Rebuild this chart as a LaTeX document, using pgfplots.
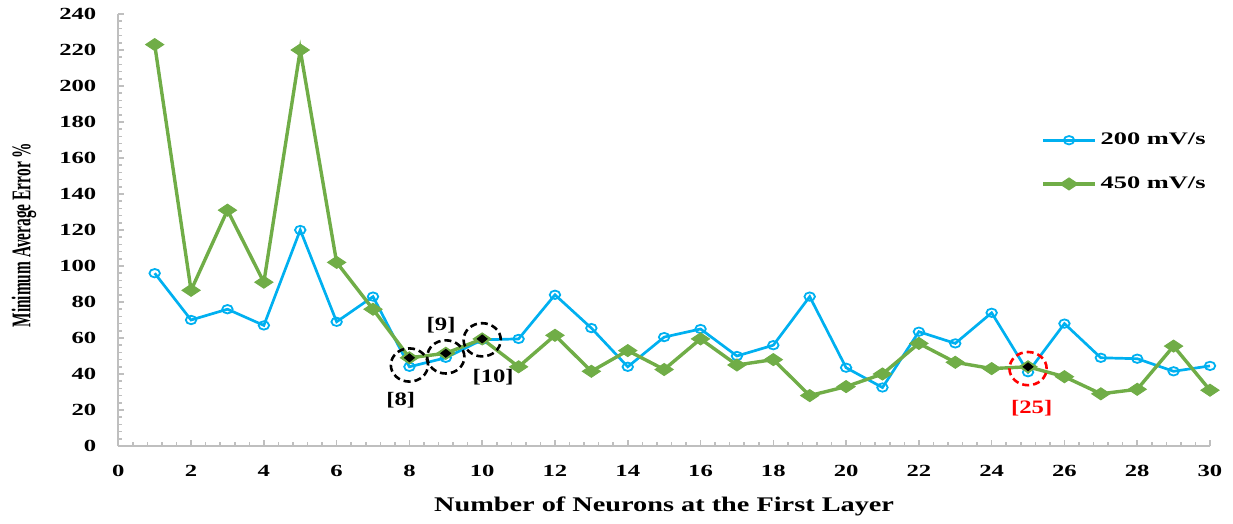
\documentclass[border=0pt]{standalone}
\usepackage{pgfplots}
\pgfplotsset{compat=1.18}
\usepackage{graphicx}
\usepackage{fontspec}
\setmainfont{Liberation Serif}

\definecolor{cblue}{HTML}{00B0F0}
\definecolor{cgreen}{HTML}{70AD47}
\definecolor{axgray}{HTML}{BFBFBF}

% wide lettering used throughout the figure
\newcommand\hs[2][1.45]{\scalebox{#1}[1]{#2}}

\begin{document}
\begin{tikzpicture}
\begin{axis}[
  at={(0,0)}, anchor=south west,
  scale only axis, width=545.85pt, height=216pt,
  xmin=0, xmax=30, ymin=0, ymax=240,
  axis x line*=bottom, axis y line*=left,
  axis line style={axgray, line width=1pt},
  xtick={0,2,...,30}, ytick={0,20,...,240},
  minor x tick num=4, minor y tick num=4,
  tick align=inside,
  major tick length=3pt, minor tick length=2pt,
  tick style={axgray, line width=0.8pt},
  tick label style={font=\bfseries\fontsize{8.5}{10}\selectfont},
  xticklabel={\hs{\pgfmathprintnumber[assume math mode=true]{\tick}}},
  yticklabel={\hs{\pgfmathprintnumber[assume math mode=true]{\tick}}},
  xticklabel style={yshift=-6pt},
  yticklabel style={xshift=-7.5pt},
  xlabel={\hs[1.36]{Number of Neurons at the First Layer}},
  xlabel style={font=\bfseries\fontsize{10.4}{12}\selectfont, anchor=center,
    at={(axis description cs:0.5,-0.141)}},
  ylabel={\scalebox{1}[1.75]{Minimum Average Error \%}},
  ylabel style={font=\bfseries\fontsize{7.7}{9}\selectfont, anchor=center,
    at={(axis description cs:-0.0863,0.488)}},
  legend style={draw=none, fill=none, at={(1.0,0.735)}, anchor=north east,
    font=\bfseries\fontsize{8.8}{10}\selectfont,
    row sep=10.5pt, inner sep=0pt, cells={anchor=west}},
  legend image code/.code={%
    \draw[mark repeat=2, mark phase=2, #1]
      plot coordinates {(0pt,0pt) (13pt,0pt) (26pt,0pt)};},
  clip=false,
]
% 200 mV/s
\addplot[cblue, line width=1.35pt, mark=o, mark size=2.1pt,
  mark options={fill=white, line width=0.9pt, xscale=1.25}]
coordinates {
 (1,96) (2,70) (3,76) (4,67) (5,120) (6,69) (7,83) (8,44) (9,49) (10,59)
 (11,59.5) (12,84) (13,65.5) (14,44) (15,60.5) (16,65) (17,50) (18,56) (19,83) (20,43.5)
 (21,32.5) (22,63.5) (23,57) (24,74) (25,41) (26,68) (27,49) (28,48.5) (29,41.5) (30,44.5)
};
\addlegendentry{\hs[1.5]{200 mV/s}}
% 450 mV/s
\addplot[cgreen, line width=1.7pt, mark=diamond*, mark size=3pt,
  mark options={fill=cgreen, line width=0.5pt, xscale=2.0}]
coordinates {
 (1,223) (2,86.5) (3,131) (4,91) (5,220) (6,102) (7,76) (8,49) (9,51.5) (10,59.5)
 (11,44) (12,61.5) (13,41.5) (14,53) (15,42.5) (16,59.5) (17,45) (18,48) (19,28) (20,33)
 (21,40) (22,57) (23,46.5) (24,43) (25,44) (26,38.5) (27,29) (28,31.5) (29,55.5) (30,31)
};
\addlegendentry{\hs[1.5]{450 mV/s}}
% selected network sizes
\addplot[forget plot, only marks, mark=diamond*, mark size=2pt,
  mark options={fill=black, draw=black, xscale=1.67}]
coordinates {(8,49) (9,51.5) (10,59.5) (25,44)};
\addplot[forget plot, only marks, mark=o, mark size=8.3pt,
  mark options={black, line width=1.3pt, dash pattern=on 3.5pt off 2pt, xscale=1.12}]
coordinates {(8,45) (9,49.5) (10,59)};
\addplot[forget plot, only marks, mark=o, mark size=8.3pt,
  mark options={red, line width=1.3pt, dash pattern=on 3.5pt off 2pt, xscale=1.12}]
coordinates {(25,43)};
\node[font=\bfseries\fontsize{9.5}{11}\selectfont] at (axis cs:7.76,25.5) {\hs[1.3]{[8]}};
\node[font=\bfseries\fontsize{9.5}{11}\selectfont] at (axis cs:8.87,67) {\hs[1.3]{[9]}};
\node[font=\bfseries\fontsize{9.5}{11}\selectfont] at (axis cs:10.3,38.5) {\hs[1.3]{[10]}};
\node[font=\bfseries\fontsize{9.5}{11}\selectfont, text=red] at (axis cs:25.1,21) {\hs[1.3]{[25]}};
\end{axis}
\path[use as bounding box] (-59.15pt,-37.5pt) rectangle (557.35pt,223pt);
\end{tikzpicture}
\end{document}
